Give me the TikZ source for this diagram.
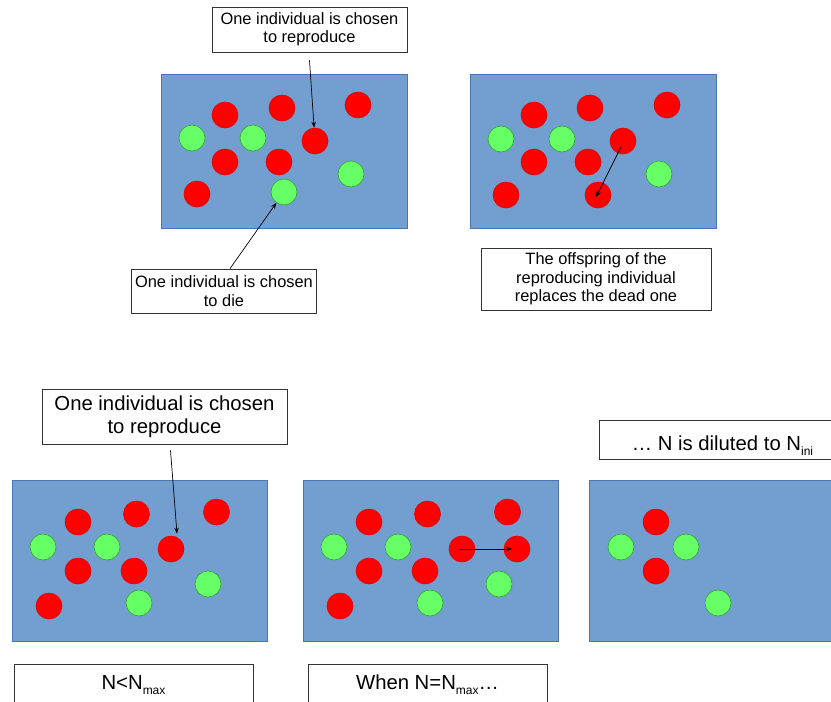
\documentclass[tikz,border=0pt]{standalone}
\usepackage{fontspec}
\setmainfont{Liberation Sans}
\usepackage{tikz}
\usetikzlibrary{positioning,arrows.meta,calc}

\definecolor{dishfill}{RGB}{114,159,207}
\definecolor{dishline}{RGB}{72,118,180}
\definecolor{cellgreen}{RGB}{102,255,102}
\definecolor{cellgreenline}{RGB}{52,160,52}
\definecolor{cellred}{RGB}{255,0,0}

\newcommand{\lowsub}[1]{\raisebox{-5pt}{\fontsize{12}{12}\selectfont #1}}

\begin{document}
\begin{tikzpicture}[
    x=1pt, y=-1pt,
    >={Stealth[length=6pt,width=4.5pt]},
    dish/.style={
        draw=dishline,
        fill=dishfill,
        line width=0.7pt,
        anchor=north west,
        inner sep=0pt
    },
    cell/.style={
        circle,
        inner sep=0pt,
        minimum size=26pt,
        line width=0.6pt
    },
    redcell/.style={cell, fill=cellred, draw=cellred!90!black},
    greencell/.style={cell, fill=cellgreen, draw=cellgreenline},
    notebox/.style={
        draw=black!80,
        fill=white,
        line width=0.8pt,
        align=center,
        inner sep=4pt,
        font=\fontsize{16.4}{18.5}\selectfont
    },
    bignote/.style={
        notebox,
        font=\fontsize{20.3}{23}\selectfont
    },
    pointer/.style={->, line width=0.7pt}
]

\useasboundingbox (0,0) rectangle (831,702);

% Top left dish: choose who reproduces and who dies
\node[dish, minimum width=246, minimum height=154] (dishA) at (161,74) {};
\node[redcell] (a1) at (225,115) {};
\node[redcell] (a2) at (282,108) {};
\node[redcell] (a3) at (358,105) {};
\node[greencell] (a4) at (192,138) {};
\node[greencell] (a5) at (253,138) {};
\node[redcell] (a-rep) at (315,141) {};
\node[redcell] (a7) at (225,162) {};
\node[redcell] (a8) at (279,162) {};
\node[greencell] (a9) at (351,174) {};
\node[redcell] (a10) at (197,194) {};
\node[greencell] (a-die) at (284,192) {};

% Top right dish: offspring replaces the dead one
\node[dish, minimum width=246, minimum height=154] (dishB) at (470,74) {};
\node[redcell] (b1) at (534,115) {};
\node[redcell] (b2) at (590,108) {};
\node[redcell] (b3) at (667,105) {};
\node[greencell] (b4) at (501,139) {};
\node[greencell] (b5) at (562,139) {};
\node[redcell] (b-rep) at (623,141) {};
\node[redcell] (b7) at (534,162) {};
\node[redcell] (b8) at (588,162) {};
\node[greencell] (b9) at (659,174) {};
\node[redcell] (b10) at (506,195) {};
\node[redcell] (b-new) at (598,195) {};

% Top notes
\node[notebox, minimum width=195, minimum height=45] (noteRepA) at (309.5,29.5) {One individual is chosen\\to reproduce};
\node[notebox, minimum width=182, minimum height=44] (noteDieA) at (224,291) {One individual is chosen\\to die};
\node[notebox, minimum width=230, minimum height=62] (noteOffB) at (596,279) {The offspring of the\\reproducing individual\\replaces the dead one};

\draw[pointer] ([yshift=-8pt]noteRepA.south) -- (a-rep);
\draw[pointer] ([xshift=6pt]noteDieA.north) -- (a-die);
\draw[pointer] ([shift={(-2pt,-6pt)}]b-rep.center) -- ([shift={(-2pt,-2pt)}]b-new.center);

% Bottom left dish: N < Nmax
\node[dish, minimum width=255, minimum height=161] (dishC) at (12,480) {};
\node[redcell] (c1) at (78,522) {};
\node[redcell] (c2) at (136.5,514) {};
\node[redcell] (c3) at (216.5,512) {};
\node[greencell] (c4) at (43,547) {};
\node[greencell] (c5) at (107,547) {};
\node[redcell] (c-rep) at (171,549) {};
\node[redcell] (c7) at (78,571) {};
\node[redcell] (c8) at (134,571) {};
\node[greencell] (c9) at (208,584) {};
\node[redcell] (c10) at (49,606) {};
\node[greencell] (c11) at (139,603) {};

% Bottom middle dish: N = Nmax
\node[dish, minimum width=255, minimum height=161] (dishD) at (303,480) {};
\node[redcell] (d1) at (369,522) {};
\node[redcell] (d2) at (427.5,514) {};
\node[redcell] (d3) at (507.5,512) {};
\node[greencell] (d4) at (334,547) {};
\node[greencell] (d5) at (398,547) {};
\node[redcell] (d-rep) at (462,549) {};
\node[redcell] (d-new) at (517,549) {};
\node[redcell] (d7) at (369,571) {};
\node[redcell] (d8) at (425,571) {};
\node[greencell] (d9) at (499,584) {};
\node[redcell] (d10) at (340,606) {};
\node[greencell] (d11) at (430,603) {};

% Bottom right dish: after dilution
\node[dish, minimum width=255, minimum height=161] (dishE) at (589,480) {};
\node[redcell] (e1) at (656,522) {};
\node[greencell] (e2) at (621,547) {};
\node[greencell] (e3) at (686,547) {};
\node[redcell] (e4) at (656,571) {};
\node[greencell] (e5) at (718,603) {};

% Bottom notes
\node[bignote, minimum width=245, minimum height=55] (noteRepC) at (164.5,416.5) {One individual is chosen\\to reproduce};
\node[bignote, minimum width=239, minimum height=50, anchor=north, text height=10pt, text depth=10pt] (noteLowC) at (133.5,664) {N<N\lowsub{max}};
\node[bignote, minimum width=239, minimum height=50, anchor=north, text height=10pt, text depth=10pt] (noteMaxD) at (427.5,664) {When N=N\lowsub{max}…};
\node[bignote, minimum width=247, minimum height=39, text height=22pt, text depth=0pt] (noteDilE) at (722.5,439.5) {… N is diluted to N\lowsub{ini}};

\draw[pointer] ([xshift=6pt,yshift=-6pt]noteRepC.south) -- ([xshift=6pt,yshift=2pt]c-rep.north);
\draw[pointer] ([xshift=-3pt]d-rep.center) -- ([xshift=-5pt]d-new.center);

\end{tikzpicture}
\end{document}
